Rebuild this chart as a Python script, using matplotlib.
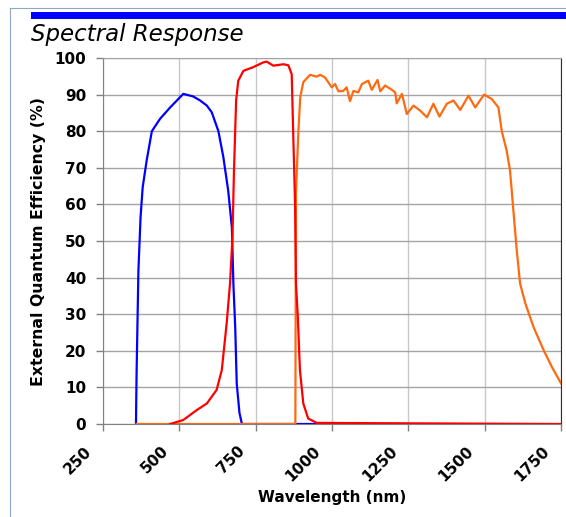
import matplotlib
matplotlib.use('Agg')
import matplotlib.pyplot as plt
import matplotlib.transforms as mtransforms
from matplotlib.patches import Rectangle
from matplotlib.lines import Line2D

# data (wavelength nm, QE %)
blue_nm = [358, 360, 366, 373, 380, 393, 410, 437, 470, 513, 545, 568, 590, 606,
           628, 644, 660, 672, 677, 683, 688, 697, 705, 1000]
blue_qe = [0, 14, 42, 56.5, 64.7, 72, 80, 83.4, 86.5, 90.2, 89.5, 88.4, 87, 85.2,
           80, 73, 63.8, 53.8, 38.4, 26.5, 11, 3, 0, 0]

red_nm = [470, 513, 557, 590, 622, 639, 655, 666, 674, 679, 686, 693, 710, 742,
          775, 786, 808, 841, 857, 868, 873, 879, 882, 888, 895, 906, 922, 950, 1750]
red_qe = [0, 1.1, 3.8, 5.6, 9.3, 14.7, 27.5, 38.4, 51, 69.3, 88.4, 93.8, 96.5, 97.5,
          98.8, 99, 97.9, 98.3, 98, 95.6, 79.3, 60.2, 38.4, 29.3, 14.7, 5.6, 1.5, 0.3, 0]

orange_nm = [360, 880, 882, 890, 896, 906, 928, 950, 961, 977, 999, 1010, 1021, 1037,
             1048, 1059, 1070, 1086, 1098, 1119, 1130, 1149, 1158, 1174, 1196, 1207,
             1212, 1229, 1245, 1267, 1289, 1311, 1332, 1352, 1376, 1398, 1420, 1447,
             1469, 1498, 1523, 1545, 1556, 1572, 1583, 1594, 1605, 1616, 1633, 1660,
             1693, 1720, 1750]
orange_qe = [0, 0, 63, 80, 89.3, 93.4, 95.4, 94.9, 95.4, 94.7, 92, 92.9, 90.9, 91,
             92, 88.2, 91, 90.6, 92.9, 93.8, 91.3, 94, 90.9, 92.5, 91.3, 90.6,
             87.6, 90.2, 84.7, 87, 85.6, 83.8, 87.5, 84, 87.5, 88.4, 85.8, 89.7,
             86.5, 90, 88.8, 86.5, 80, 74.7, 69.3, 58.4, 47.5, 38.4, 33, 26.5,
             20.2, 15.6, 11.1]

x_ticks = [250, 500, 750, 1000, 1250, 1500, 1750]
y_ticks = [0, 10, 20, 30, 40, 50, 60, 70, 80, 90, 100]

W, H = 566, 517
fig = plt.figure(figsize=(W / 100, H / 100), dpi=100)
ax = fig.add_axes([103 / W, 1 - 424 / H, (561 - 103) / W, (424 - 58) / H])

# frame + blue bar + title
fig.add_artist(Line2D([9.5 / W, 9.5 / W], [0, 1 - 7.5 / H], color='#8fa6c4', lw=0.8))
fig.add_artist(Line2D([9.5 / W, 1], [1 - 7.5 / H, 1 - 7.5 / H], color='#8fa6c4', lw=0.8))
fig.add_artist(Rectangle((31 / W, 1 - 19 / H), 1 - 31 / W, 7 / H,
                         transform=fig.transFigure, color='#0000ff', lw=0))
fig.text(31 / W, 1 - 41 / H, 'Spectral Response', fontsize=16.5, style='italic',
         fontweight='medium', va='baseline', ha='left')

ax.plot(blue_nm, blue_qe, color='#0000ff', lw=1.6, zorder=3)
ax.plot(orange_nm, orange_qe, color='#ff6a10', lw=1.6, zorder=4)
ax.plot(red_nm, red_qe, color='#ff0000', lw=1.6, zorder=5)

ax.set_xlim(250, 1750)
ax.set_ylim(0, 100)
ax.set_xticks(x_ticks)
ax.set_yticks(y_ticks)
ax.xaxis.grid(True, color='#c8c8c8', lw=1.0)
ax.yaxis.grid(True, color='#a4a4a4', lw=1.0)
ax.set_axisbelow(True)

for s in ['left', 'bottom']:
    ax.spines[s].set_color('#808080')
ax.spines['top'].set_color('#a4a4a4')
ax.spines['right'].set_color('#303030')
ax.tick_params(direction='out', length=5, width=1, color='#808080')
ax.tick_params(axis='y', pad=7)
ax.tick_params(axis='x', pad=9)

ax.set_yticklabels([str(v) for v in y_ticks], fontsize=11, fontweight='bold')
ax.set_xticklabels([str(v) for v in x_ticks], fontsize=11, fontweight='bold',
                   rotation=45, ha='right')
offset = mtransforms.ScaledTranslation(-6 / 72, 0, fig.dpi_scale_trans)
for lab in ax.get_xticklabels():
    lab.set_transform(lab.get_transform() + offset)

ax.set_xlabel('Wavelength (nm)', fontsize=11, fontweight='bold', labelpad=4)
ax.set_ylabel('External Quantum Efficiency (%)', fontsize=11.3, fontweight='bold')
ax.yaxis.set_label_coords(-(103 - 46) / (561 - 103), 0.5)

fig.savefig('out.png', dpi=100)
